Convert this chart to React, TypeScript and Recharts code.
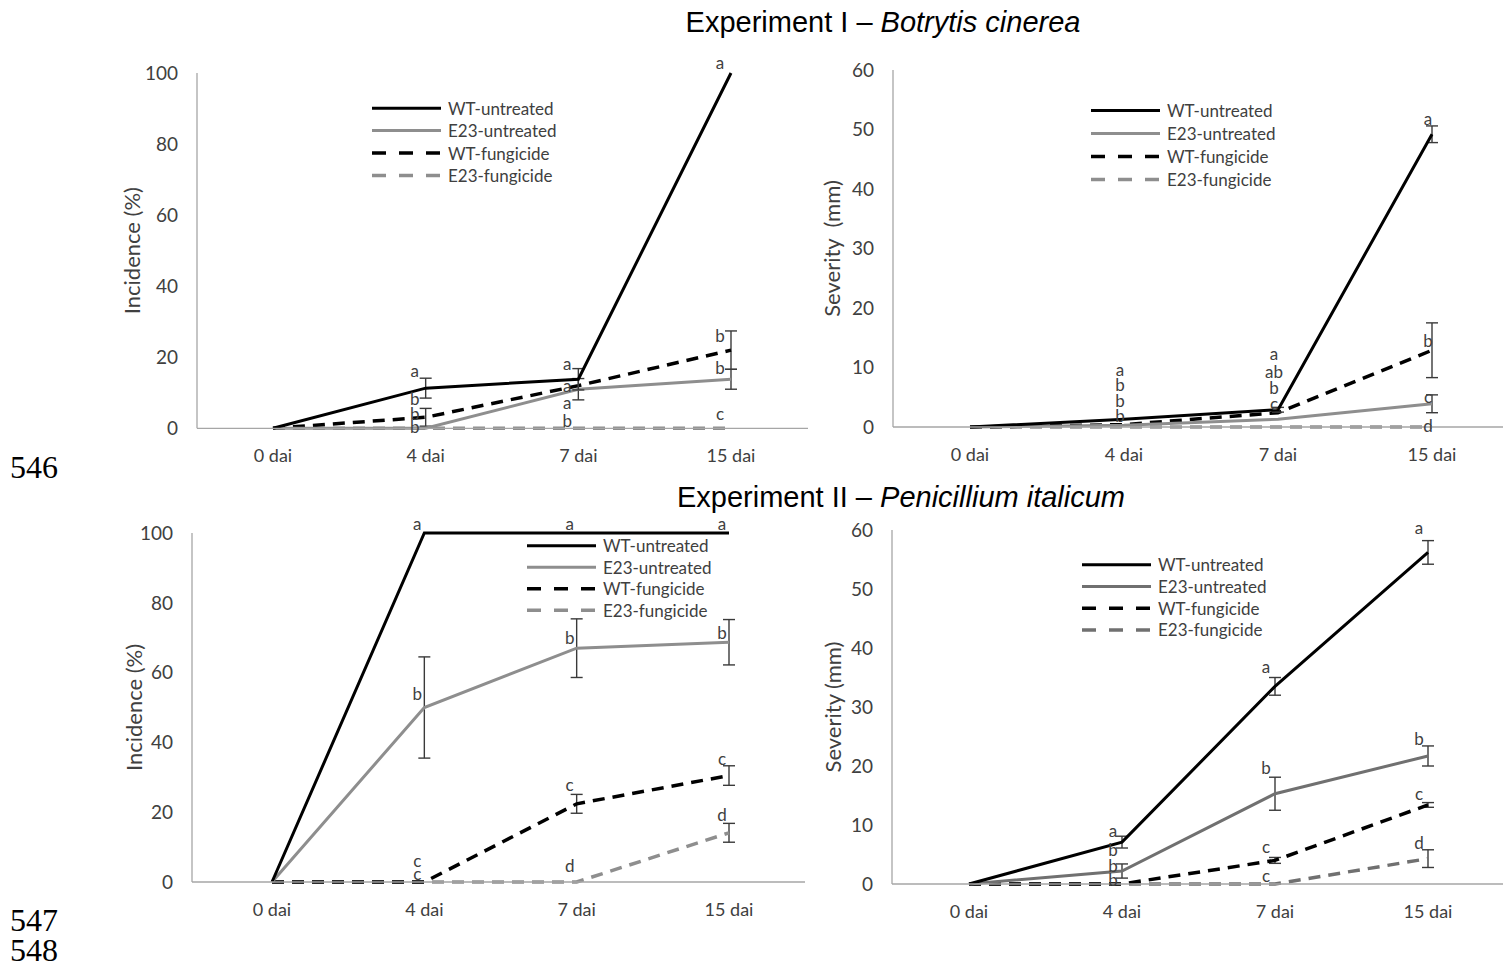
import React from 'react';
import { LineChart, Line, XAxis, YAxis, ErrorBar, ReferenceDot, Legend, Label } from 'recharts';

// ---------- data ----------
const days = ['0 dai', '4 dai', '7 dai', '15 dai'];

// Experiment I – Botrytis cinerea, incidence (%)
const botIncWtUntreated = [0, 11.3, 13.8, 100];
const botIncWtUntreatedErr = [null, 2.8, 3, null];
const botIncE23Untreated = [0, 0, 11, 13.8];
const botIncE23UntreatedErr = [null, null, 3, 2.8];
const botIncWtFungicide = [0, 3.1, 12, 22];
const botIncWtFungicideErr = [null, 2.5, null, 5.4];
const botIncE23Fungicide = [0, 0, 0, 0];
const botIncE23FungicideErr = [null, null, null, null];

// Experiment I – Botrytis cinerea, severity (mm)
const botSevWtUntreated = [0, 1.3, 2.9, 49.2];
const botSevWtUntreatedErr = [null, null, 0.4, 1.4];
const botSevE23Untreated = [0, 0.3, 1.3, 3.9];
const botSevE23UntreatedErr = [null, null, null, 1.5];
const botSevWtFungicide = [0, 0.4, 2.4, 12.9];
const botSevWtFungicideErr = [null, null, null, 4.6];
const botSevE23Fungicide = [0, 0, 0, 0];
const botSevE23FungicideErr = [null, null, null, null];

// Experiment II – Penicillium italicum, incidence (%)
const penIncWtUntreated = [0, 100, 100, 100];
const penIncWtUntreatedErr = [null, null, null, null];
const penIncE23Untreated = [0, 50, 67, 68.7];
const penIncE23UntreatedErr = [null, 14.5, 8.4, 6.5];
const penIncWtFungicide = [0, 0, 22.4, 30.5];
const penIncWtFungicideErr = [null, null, 2.7, 2.8];
const penIncE23Fungicide = [0, 0, 0, 14.1];
const penIncE23FungicideErr = [null, null, null, 2.7];

// Experiment II – Penicillium italicum, severity (mm)
const penSevWtUntreated = [0, 7.1, 33.5, 56.2];
const penSevWtUntreatedErr = [null, 1, 1.5, 2];
const penSevE23Untreated = [0, 2.2, 15.3, 21.7];
const penSevE23UntreatedErr = [null, 1.2, 2.8, 1.7];
const penSevWtFungicide = [0, 0, 4, 13.4];
const penSevWtFungicideErr = [null, null, 0.5, 0.4];
const penSevE23Fungicide = [0, 0, 0, 4.3];
const penSevE23FungicideErr = [null, null, null, 1.5];

// significance letters (day, height in axis units, letter)
const botIncLetters = [
  { day: '4 dai', y: 16.3, text: 'a' }, { day: '4 dai', y: 8.4, text: 'b' },
  { day: '4 dai', y: 4.2, text: 'b' }, { day: '4 dai', y: 0.6, text: 'b' },
  { day: '7 dai', y: 18.3, text: 'a' }, { day: '7 dai', y: 12.1, text: 'a' },
  { day: '7 dai', y: 7.3, text: 'a' }, { day: '7 dai', y: 2.3, text: 'b' },
  { day: '15 dai', y: 103, text: 'a' }, { day: '15 dai', y: 26.2, text: 'b' },
  { day: '15 dai', y: 17.2, text: 'b' }, { day: '15 dai', y: 4.2, text: 'c' },
];
const botSevLetters = [
  { day: '4 dai', y: 9.6, text: 'a' }, { day: '4 dai', y: 7.1, text: 'b' },
  { day: '4 dai', y: 4.5, text: 'b' }, { day: '4 dai', y: 2.0, text: 'b' },
  { day: '7 dai', y: 12.4, text: 'a' }, { day: '7 dai', y: 9.4, text: 'ab' },
  { day: '7 dai', y: 6.6, text: 'b' }, { day: '7 dai', y: 4.0, text: 'c' },
  { day: '15 dai', y: 51.9, text: 'a' }, { day: '15 dai', y: 14.6, text: 'b' },
  { day: '15 dai', y: 5.2, text: 'c' }, { day: '15 dai', y: 0.3, text: 'd' },
];
const penIncLetters = [
  { day: '4 dai', y: 102.6, text: 'a' }, { day: '4 dai', y: 53.9, text: 'b' },
  { day: '4 dai', y: 6.3, text: 'c' }, { day: '4 dai', y: 2.3, text: 'c' },
  { day: '7 dai', y: 102.6, text: 'a' }, { day: '7 dai', y: 70.2, text: 'b' },
  { day: '7 dai', y: 27.8, text: 'c' }, { day: '7 dai', y: 4.6, text: 'd' },
  { day: '15 dai', y: 102.6, text: 'a' }, { day: '15 dai', y: 71.6, text: 'b' },
  { day: '15 dai', y: 35.5, text: 'c' }, { day: '15 dai', y: 19.2, text: 'd' },
];
const penSevLetters = [
  { day: '4 dai', y: 9.0, text: 'a' }, { day: '4 dai', y: 5.8, text: 'b' },
  { day: '4 dai', y: 3.1, text: 'b' }, { day: '4 dai', y: 0.7, text: 'b' },
  { day: '7 dai', y: 36.8, text: 'a' }, { day: '7 dai', y: 19.7, text: 'b' },
  { day: '7 dai', y: 6.4, text: 'c' }, { day: '7 dai', y: 1.4, text: 'c' },
  { day: '15 dai', y: 60.5, text: 'a' }, { day: '15 dai', y: 24.7, text: 'b' },
  { day: '15 dai', y: 15.4, text: 'c' }, { day: '15 dai', y: 7.1, text: 'd' },
];

const incidenceTicks = [0, 20, 40, 60, 80, 100];
const severityTicks = [0, 10, 20, 30, 40, 50, 60];

// ---------- styling ----------
const FONT = 'Lato, "Open Sans", sans-serif';
const TXT = '#404040';
const AXIS = '#a6a6a6';
const LIGHT_GREY = '#8e8e8e';
const DARK_GREY = '#707070';

type Series = { key: string; name: string; color: string; dash?: string; width: number };

const makeSeries = (grey: string): Series[] => [
  { key: 'wtU', name: 'WT-untreated', color: '#000000', width: 3 },
  { key: 'e23U', name: 'E23-untreated', color: grey, width: 3 },
  { key: 'wtF', name: 'WT-fungicide', color: '#000000', dash: '12 8', width: 3.5 },
  { key: 'e23F', name: 'E23-fungicide', color: grey, dash: '12 8', width: 3.5 },
];

type Cols = Record<string, (number | null)[]>;
const buildRows = (cols: Cols) =>
  days.map((day, i) => {
    const r: Record<string, any> = { day };
    Object.keys(cols).forEach((k) => {
      r[k] = cols[k][i];
    });
    return r;
  });

const botIncRows = buildRows({
  wtU: botIncWtUntreated, wtUErr: botIncWtUntreatedErr,
  e23U: botIncE23Untreated, e23UErr: botIncE23UntreatedErr,
  wtF: botIncWtFungicide, wtFErr: botIncWtFungicideErr,
  e23F: botIncE23Fungicide, e23FErr: botIncE23FungicideErr,
});
const botSevRows = buildRows({
  wtU: botSevWtUntreated, wtUErr: botSevWtUntreatedErr,
  e23U: botSevE23Untreated, e23UErr: botSevE23UntreatedErr,
  wtF: botSevWtFungicide, wtFErr: botSevWtFungicideErr,
  e23F: botSevE23Fungicide, e23FErr: botSevE23FungicideErr,
});
const penIncRows = buildRows({
  wtU: penIncWtUntreated, wtUErr: penIncWtUntreatedErr,
  e23U: penIncE23Untreated, e23UErr: penIncE23UntreatedErr,
  wtF: penIncWtFungicide, wtFErr: penIncWtFungicideErr,
  e23F: penIncE23Fungicide, e23FErr: penIncE23FungicideErr,
});
const penSevRows = buildRows({
  wtU: penSevWtUntreated, wtUErr: penSevWtUntreatedErr,
  e23U: penSevE23Untreated, e23UErr: penSevE23UntreatedErr,
  wtF: penSevWtFungicide, wtFErr: penSevWtFungicideErr,
  e23F: penSevE23Fungicide, e23FErr: penSevE23FungicideErr,
});

// ---------- panel ----------
const YW = 100;
const XH = 45;

interface PanelProps {
  rows: any[];
  series: Series[];
  letters: { day: string; y: number; text: string }[];
  yMax: number;
  yTicks: number[];
  yTitle: string;
  plot: { left: number; right: number; top: number; bottom: number };
  pad: { left: number; right: number };
  titleGap: number;
  letterDx: number;
  legend: { x: number; y: number; rowH: number };
}

const LegendBlock = ({ series, rowH }: { series: Series[]; rowH: number }) => (
  <svg width={230} height={rowH * series.length} style={{ display: 'block', overflow: 'visible' }}>
    {series.map((s, i) => {
      const cy = rowH * i + rowH / 2;
      return (
        <g key={s.key}>
          <line x1={0} x2={69} y1={cy} y2={cy} stroke={s.color} strokeWidth={s.width}
            strokeDasharray={s.dash ? '14 13' : undefined} />
          <text x={76} y={cy} dominantBaseline="central" fontSize={17} fill={TXT} fontFamily={FONT}>
            {s.name}
          </text>
        </g>
      );
    })}
  </svg>
);

function Panel(p: PanelProps) {
  const box = {
    left: p.plot.left - YW - 10,
    top: p.plot.top - 30,
    right: p.plot.right + 10,
    bottom: p.plot.bottom + XH + 5,
  };
  const width = box.right - box.left;
  const height = box.bottom - box.top;
  const margin = {
    top: p.plot.top - box.top,
    left: p.plot.left - box.left - YW,
    right: box.right - p.plot.right,
    bottom: box.bottom - p.plot.bottom - XH,
  };
  const titleX = p.plot.left - box.left - p.titleGap;
  const titleY = (p.plot.top + p.plot.bottom) / 2 - box.top;
  const drawOrder = [...p.series].reverse();

  return (
    <div style={{ position: 'absolute', left: box.left, top: box.top, fontFamily: FONT }}>
      <LineChart width={width} height={height} data={p.rows} margin={margin}>
        <XAxis
          dataKey="day"
          height={XH}
          interval={0}
          axisLine={{ stroke: AXIS, strokeWidth: 1.3 }}
          tickLine={false}
          tickMargin={15}
          padding={p.pad}
          tick={{ fill: TXT, fontSize: 18, fontFamily: FONT }}
        />
        <YAxis
          width={YW}
          domain={[0, p.yMax]}
          ticks={p.yTicks}
          interval={0}
          axisLine={{ stroke: AXIS, strokeWidth: 1.3 }}
          tickLine={false}
          tickMargin={13}
          tick={{ fill: TXT, fontSize: 19, fontFamily: FONT }}
          label={
            <Label
              content={() => (
                <text
                  x={titleX}
                  y={titleY}
                  transform={`rotate(-90 ${titleX} ${titleY})`}
                  textAnchor="middle"
                  dominantBaseline="central"
                  fontSize={22}
                  fill={TXT}
                  fontFamily={FONT}
                  style={{ whiteSpace: 'pre' }}
                >
                  {p.yTitle}
                </text>
              )}
            />
          }
        />
        {drawOrder.map((s) => (
          <Line
            key={s.key}
            type="linear"
            dataKey={s.key}
            name={s.name}
            stroke={s.color}
            strokeWidth={s.width}
            strokeDasharray={s.dash}
            dot={false}
            activeDot={false}
            isAnimationActive={false}
          >
            <ErrorBar dataKey={`${s.key}Err`} direction="y" width={6} stroke="#3a3a3a" strokeWidth={1.4}
              isAnimationActive={false} />
          </Line>
        ))}
        {p.letters.map((l, i) => (
          <ReferenceDot
            key={`l${i}`}
            x={l.day}
            y={l.y}
            r={0}
            ifOverflow="visible"
            shape={(sp: any) => (
              <text x={sp.cx + p.letterDx} y={sp.cy} textAnchor="middle" dominantBaseline="central"
                fontSize={17} fill={TXT} fontFamily={FONT}>
                {l.text}
              </text>
            )}
          />
        ))}
        <Legend
          layout="vertical"
          align="center"
          verticalAlign="middle"
          wrapperStyle={{
            left: p.legend.x - box.left,
            top: p.legend.y - box.top - p.legend.rowH / 2,
            width: 'auto',
            height: 'auto',
          }}
          content={() => <LegendBlock series={p.series} rowH={p.legend.rowH} />}
        />
      </LineChart>
    </div>
  );
}

const pageText: React.CSSProperties = { position: 'absolute', whiteSpace: 'nowrap', color: '#000' };

export default function App() {
  return (
    <div style={{ position: 'absolute', left: 0, top: 0, width: 1503, height: 964, overflow: 'hidden', background: '#fff' }}>
      <div style={{ ...pageText, left: 483, width: 800, top: 5, lineHeight: '34px', textAlign: 'center',
        fontFamily: '"Liberation Sans", Arial, sans-serif', fontSize: 29 }}>
        Experiment I – <i>Botrytis cinerea</i>
      </div>
      <div style={{ ...pageText, left: 501, width: 800, top: 480, lineHeight: '34px', textAlign: 'center',
        fontFamily: '"Liberation Sans", Arial, sans-serif', fontSize: 29 }}>
        Experiment II – <i>Penicillium italicum</i>
      </div>
      {[
        { n: '546', top: 453 },
        { n: '547', top: 906 },
        { n: '548', top: 936 },
      ].map((l) => (
        <div key={l.n} style={{ ...pageText, left: 10, top: l.top, lineHeight: '28px', fontSize: 32,
          fontFamily: '"Liberation Serif", "DejaVu Serif", serif' }}>
          {l.n}
        </div>
      ))}

      <Panel
        rows={botIncRows}
        series={makeSeries(LIGHT_GREY)}
        letters={botIncLetters}
        yMax={100}
        yTicks={incidenceTicks}
        yTitle="Incidence (%)"
        plot={{ left: 197, right: 808, top: 72.7, bottom: 428 }}
        pad={{ left: 76, right: 77 }}
        titleGap={65}
        letterDx={-11}
        legend={{ x: 372, y: 108, rowH: 22.4 }}
      />
      <Panel
        rows={botSevRows}
        series={makeSeries(LIGHT_GREY)}
        letters={botSevLetters}
        yMax={60}
        yTicks={severityTicks}
        yTitle="Severity  (mm)"
        plot={{ left: 893, right: 1509, top: 70, bottom: 427 }}
        pad={{ left: 77, right: 77 }}
        titleGap={62}
        letterDx={-4}
        legend={{ x: 1091, y: 110, rowH: 23 }}
      />
      <Panel
        rows={penIncRows}
        series={makeSeries(LIGHT_GREY)}
        letters={penIncLetters}
        yMax={100}
        yTicks={incidenceTicks}
        yTitle="Incidence (%)"
        plot={{ left: 192, right: 805, top: 533, bottom: 882 }}
        pad={{ left: 80, right: 76 }}
        titleGap={59}
        letterDx={-7}
        legend={{ x: 527, y: 546, rowH: 21.5 }}
      />
      <Panel
        rows={penSevRows}
        series={makeSeries(DARK_GREY)}
        letters={penSevLetters}
        yMax={60}
        yTicks={severityTicks}
        yTitle="Severity (mm)"
        plot={{ left: 892, right: 1504, top: 530, bottom: 884 }}
        pad={{ left: 77, right: 76 }}
        titleGap={60}
        letterDx={-9}
        legend={{ x: 1082, y: 565, rowH: 21.7 }}
      />
    </div>
  );
}
